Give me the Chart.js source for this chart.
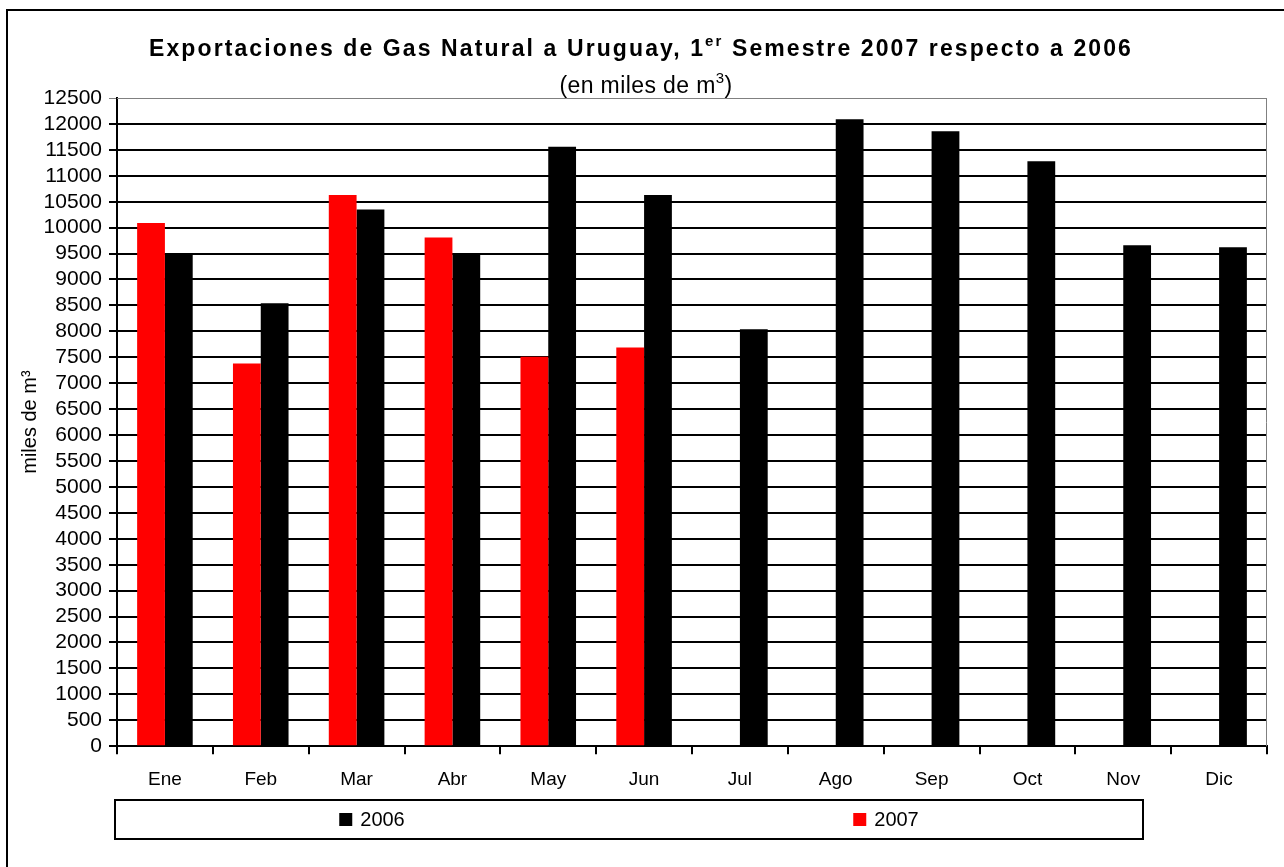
<!DOCTYPE html>
<html lang="es">
<head>
<meta charset="UTF-8">
<title>Exportaciones de Gas Natural a Uruguay</title>
<script src="https://cdn.jsdelivr.net/npm/chart.js"></script>
<style>
  html, body { margin: 0; padding: 0; background: #fff; }
  #wrap { width: 1284px; height: 867px; }
</style>
</head>
<body>
<div id="wrap"><canvas id="gasChart" width="1284" height="867"></canvas></div>
<script>
const meses = ['Ene', 'Feb', 'Mar', 'Abr', 'May', 'Jun', 'Jul', 'Ago', 'Sep', 'Oct', 'Nov', 'Dic'];
const valores2006 = [9470, 8540, 10350, 9500, 11560, 10630, 8040, 12090, 11860, 11280, 9660, 9620];
const valores2007 = [10090, 7380, 10630, 9810, 7510, 7690];
const series = ['2007', '2006'];
const colores = ['#ff0000', '#000000'];
const tituloPartes = ['Exportaciones de Gas Natural a Uruguay, 1', 'er', ' Semestre 2007 respecto a 2006'];
const subtituloPartes = ['(en miles de m', '3', ')'];
const ejeY = 'miles de m³';

const FONT = '"Liberation Sans", Arial, sans-serif';

// dibuja una linea de texto con un superindice en el medio, centrada en cx
function textoConSup(ctx, partes, cx, y, big, small, sp, subir) {
  ctx.letterSpacing = sp + 'px';
  ctx.font = big;
  const w0 = ctx.measureText(partes[0]).width;
  const w2 = ctx.measureText(partes[2]).width;
  ctx.font = small;
  const w1 = ctx.measureText(partes[1]).width;
  const x = cx - (w0 + w1 + w2) / 2;
  ctx.font = big;
  ctx.fillText(partes[0], x, y);
  ctx.font = small;
  ctx.fillText(partes[1], x + w0, y - subir);
  ctx.font = big;
  ctx.fillText(partes[2], x + w0 + w1, y);
  ctx.letterSpacing = '0px';
}

// marco, titulo y leyenda dibujados a mano (como en el grafico de Excel)
const marco = {
  id: 'marco',
  beforeDraw(chart) {
    const ctx = chart.ctx;
    ctx.save();
    ctx.fillStyle = '#fff';
    ctx.fillRect(0, 0, chart.width, chart.height);
    ctx.strokeStyle = '#000';
    ctx.lineWidth = 2;
    ctx.beginPath();
    ctx.moveTo(7, chart.height + 5);
    ctx.lineTo(7, 10);
    ctx.lineTo(chart.width + 5, 10);
    ctx.stroke();
    ctx.restore();
  },
  afterDraw(chart) {
    const ctx = chart.ctx;
    const a = chart.chartArea;
    ctx.save();

    // borde gris del area de trazado
    ctx.strokeStyle = '#808080';
    ctx.lineWidth = 1;
    ctx.beginPath();
    ctx.moveTo(a.left, a.top + 0.5);
    ctx.lineTo(a.right - 0.5, a.top + 0.5);
    ctx.lineTo(a.right - 0.5, a.bottom);
    ctx.stroke();

    // titulo y subtitulo
    ctx.fillStyle = '#000';
    ctx.textBaseline = 'alphabetic';
    ctx.textAlign = 'left';
    textoConSup(ctx, tituloPartes, 641, 56, 'bold 23px ' + FONT, 'bold 15px ' + FONT, 2.1, 10);
    textoConSup(ctx, subtituloPartes, 646, 93, '23px ' + FONT, '15px ' + FONT, 0.4, 10);

    // leyenda
    const lx0 = a.left - 2, lx1 = 1143, ly0 = 800, ly1 = 839;
    ctx.strokeStyle = '#000';
    ctx.lineWidth = 2;
    ctx.strokeRect(lx0, ly0, lx1 - lx0, ly1 - ly0);
    ctx.font = '20px ' + FONT;
    ctx.textAlign = 'left';
    ctx.textBaseline = 'middle';
    const orden = chart.data.datasets.map((d, i) => i).reverse();
    orden.forEach((di, k) => {
      const ds = chart.data.datasets[di];
      const cx = lx0 + (lx1 - lx0) * (2 * k + 1) / 4;
      const tw = ctx.measureText(ds.label).width;
      const sx = cx - (13 + 8 + tw) / 2;
      const cy = (ly0 + ly1) / 2;
      ctx.fillStyle = ds.backgroundColor;
      ctx.fillRect(sx, cy - 6.5, 13, 13);
      ctx.fillStyle = '#000';
      ctx.fillText(ds.label, sx + 21, cy + 1);
    });
    ctx.restore();
  }
};

new Chart(document.getElementById('gasChart'), {
  type: 'bar',
  data: {
    labels: meses,
    datasets: [
      { label: series[0], data: valores2007, backgroundColor: colores[0] },
      { label: series[1], data: valores2006, backgroundColor: colores[1] }
    ]
  },
  options: {
    responsive: false,
    animation: false,
    layout: { padding: { top: 98, right: 17, bottom: 62, left: 0 } },
    datasets: { bar: { categoryPercentage: 0.58, barPercentage: 1 } },
    plugins: {
      legend: { display: false },
      title: { display: false },
      tooltip: { enabled: false }
    },
    scales: {
      x: {
        grid: { offset: true, drawOnChartArea: false, color: '#000', lineWidth: 2, tickLength: 8 },
        border: { color: '#000', width: 2 },
        ticks: { color: '#000', font: { family: FONT, size: 19 }, padding: 14, maxRotation: 0 }
      },
      y: {
        min: 0,
        max: 12500,
        afterFit(scale) { scale.width = 117; },
        grid: {
          color: c => (c.tick && c.tick.value === 12500 ? '#808080' : '#000'),
          lineWidth: c => (c.tick && c.tick.value === 12500 ? 1 : 2),
          tickLength: 8
        },
        border: { color: '#000', width: 2 },
        ticks: {
          stepSize: 500,
          autoSkip: false,
          color: '#000',
          font: { family: FONT, size: 21 },
          padding: 7,
          callback: v => String(v)
        },
        title: {
          display: true,
          text: ejeY,
          color: '#000',
          font: { family: FONT, size: 20 },
          padding: { top: 18, bottom: 0 }
        }
      }
    }
  },
  plugins: [marco]
});
</script>
</body>
</html>
